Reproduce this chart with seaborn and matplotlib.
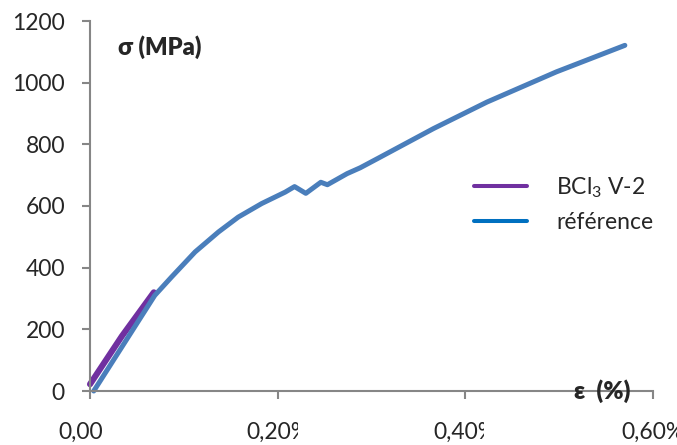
"""
Courbe contrainte-deformation : BCl3 V-2 vs reference
"""

import pandas as pd
import seaborn as sns
import matplotlib.pyplot as plt
from matplotlib.lines import Line2D
from matplotlib.transforms import Bbox

# data (strain in %, stress in MPa)
ref_strain = [0.004, 0.069, 0.087, 0.112, 0.137, 0.158, 0.183, 0.208, 0.218,
              0.230, 0.246, 0.253, 0.274, 0.288, 0.309, 0.366, 0.423, 0.497, 0.570]
ref_stress = [0, 310, 370, 451, 516, 564, 608, 645, 663,
              641, 677, 669, 705, 724, 758, 851, 937, 1035, 1121]

bcl_strain = [0.0, 0.034, 0.068]
bcl_stress = [22, 178, 320]

x_ticks = [0.0, 0.2, 0.4, 0.6]
x_labels = ["0,00%", "0,20%", "0,40%", "0,60%"]
y_ticks = [0, 200, 400, 600, 800, 1000, 1200]

series_names = ["BCl$_3$ V-2", "référence"]
colors = ["#7030A0", "#4A7EBB"]
legend_colors = ["#7030A0", "#0070C0"]

sns.set_style("white")
plt.rcParams["font.family"] = ["Lato", "DejaVu Sans"]
plt.rcParams["mathtext.fontset"] = "custom"
plt.rcParams["mathtext.rm"] = "Lato"
plt.rcParams["mathtext.it"] = "Lato"

ref_df = pd.DataFrame({"strain": ref_strain, "stress": ref_stress})
bcl_df = pd.DataFrame({"strain": bcl_strain, "stress": bcl_stress})

fig = plt.figure(figsize=(6.77, 4.45), dpi=100)
ax = fig.add_axes([90 / 677, 54 / 445, 563 / 677, 370 / 445])

# purple first, blue drawn over it
sns.lineplot(data=bcl_df, x="strain", y="stress", ax=ax, color=colors[0],
             lw=4.4, sort=False, estimator=None, solid_capstyle="round")
sns.lineplot(data=ref_df, x="strain", y="stress", ax=ax, color=colors[1],
             lw=3.6, sort=False, estimator=None, solid_capstyle="round")
for line in ax.get_lines():
    line.set_clip_on(False)

ax.set_xlim(0, 0.6)
ax.set_ylim(0, 1200)
ax.set_xlabel("")
ax.set_ylabel("")

ax.set_xticks(x_ticks)
ax.set_xticklabels(x_labels)
ax.set_yticks(y_ticks)
ax.tick_params(axis="y", direction="out", length=6, width=1.5, color="#868686",
               labelsize=16.5, pad=12, left=True)
ax.tick_params(axis="x", direction="out", length=6, width=1.5, color="#868686",
               labelsize=16.5, pad=16, bottom=True)

sns.despine(ax=ax)
for side in ["left", "bottom"]:
    ax.spines[side].set_color("#868686")
    ax.spines[side].set_linewidth(1.5)

# Excel-like clipped x tick labels
clip_offsets = [12, 20, 19, 40]
for lab, xt, off in zip(ax.get_xticklabels(), x_ticks, clip_offsets):
    px = ax.transData.transform((xt, 0))[0]
    lab.set_clip_on(True)
    lab.set_clip_box(Bbox([[0, 0], [px + off, 445]]))

ax.text(0.124, 0.93, "σ (MPa)", transform=ax.transAxes, ha="center",
        va="center", fontsize=17, fontweight="heavy")
ax.text(0.5456, 0, "ε  (%)", ha="center", va="center", fontsize=17.5,
        fontweight="heavy", clip_on=False)

handles = [Line2D([], [], color=c, lw=2.9) for c in legend_colors]
ax.legend(handles, series_names, loc="center left",
          bbox_to_anchor=(474 / 677, 1 - 204 / 445),
          bbox_transform=fig.transFigure, frameon=False, fontsize=16.5,
          handlelength=2.3, handletextpad=1.3, labelspacing=0.5,
          borderpad=0, borderaxespad=0)

fig.savefig("out.png", dpi=100)
plt.close(fig)
